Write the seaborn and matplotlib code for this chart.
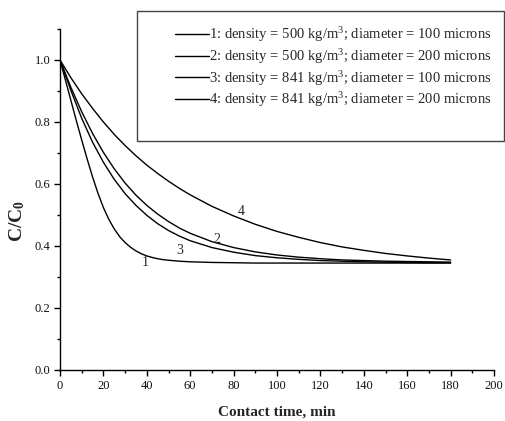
import numpy as np
import pandas as pd
import matplotlib
matplotlib.use("Agg")
import matplotlib.pyplot as plt
import seaborn as sns
from matplotlib.patches import Rectangle
from matplotlib.ticker import MultipleLocator, FormatStrFormatter

# contact time, min (curve 1 drops fast so it gets a finer grid)
time_1 = [0, 2.5, 5, 7.5, 10, 12.5, 15, 17.5, 20, 22.5, 25, 27.5, 30, 32.5, 35, 37.5, 40,
          42.5, 45, 47.5, 50, 55, 60, 70, 80, 90, 100, 120, 140, 160, 180]
time_min = [0, 5, 10, 15, 20, 25, 30, 35, 40, 45, 50, 55, 60, 70, 80, 90, 100, 110, 120,
            130, 140, 150, 160, 170, 180]

# C/C0
curve_1 = [1.0, 0.935, 0.870, 0.805, 0.742, 0.681, 0.623, 0.570, 0.524, 0.486, 0.455, 0.430,
           0.411, 0.396, 0.384, 0.375, 0.368, 0.363, 0.359, 0.356, 0.354, 0.351, 0.349, 0.347,
           0.346, 0.345, 0.345, 0.345, 0.345, 0.345, 0.345]
curve_2 = [1.0, 0.912, 0.833, 0.763, 0.702, 0.649, 0.603, 0.564, 0.531, 0.503, 0.479, 0.458,
           0.441, 0.414, 0.395, 0.381, 0.371, 0.364, 0.359, 0.355, 0.353, 0.351, 0.350, 0.349, 0.348]
curve_3 = [1.0, 0.902, 0.812, 0.735, 0.670, 0.615, 0.569, 0.531, 0.499, 0.472, 0.450, 0.432,
           0.417, 0.395, 0.380, 0.369, 0.362, 0.357, 0.353, 0.351, 0.349, 0.348, 0.347, 0.346, 0.346]
curve_4 = [1.0, 0.943, 0.891, 0.844, 0.800, 0.760, 0.724, 0.691, 0.661, 0.634, 0.609, 0.586,
           0.565, 0.528, 0.497, 0.470, 0.447, 0.428, 0.411, 0.397, 0.386, 0.376, 0.368, 0.361, 0.355]

curve_times = [time_1, time_min, time_min, time_min]
curves = [curve_1, curve_2, curve_3, curve_4]
legend_labels = [
    "1: density = 500 kg/m$^{3}$; diameter = 100 microns",
    "2: density = 500 kg/m$^{3}$; diameter = 200 microns",
    "3: density = 841 kg/m$^{3}$; diameter = 100 microns",
    "4: density = 841 kg/m$^{3}$; diameter = 200 microns",
]
curve_tags = ["1", "2", "3", "4"]
tag_x = [39.2, 72.2, 55.3, 83.7]
tag_y = [0.346, 0.4215, 0.387, 0.511]

sns.set_theme(style="ticks")
plt.rcParams["font.family"] = ["Liberation Serif", "DejaVu Serif"]
plt.rcParams["mathtext.fontset"] = "custom"
plt.rcParams["mathtext.rm"] = "Liberation Serif"
plt.rcParams["mathtext.bf"] = "Liberation Serif:bold"
plt.rcParams["mathtext.default"] = "regular"

fig = plt.figure(figsize=(5.05, 4.21), dpi=100)
ax = fig.add_axes([60 / 505, 51 / 421, 434 / 505, 341 / 421])

for tt, vals, lab in zip(curve_times, curves, legend_labels):
    sns.lineplot(x=tt, y=vals, color="black", linewidth=1.0, label=lab, ax=ax)

for tx, ty, tg in zip(tag_x, tag_y, curve_tags):
    ax.text(tx, ty, tg, fontsize=10, ha="center", va="center")

ax.set_xlim(0, 200)
ax.set_ylim(0, 1.1)
ax.xaxis.set_major_locator(MultipleLocator(20))
ax.xaxis.set_minor_locator(MultipleLocator(10))
ax.yaxis.set_major_locator(MultipleLocator(0.2))
ax.yaxis.set_minor_locator(MultipleLocator(0.1))
ax.yaxis.set_major_formatter(FormatStrFormatter("%.1f"))
ax.tick_params(which="major", length=4, width=1, labelsize=9, color="black", labelcolor="#111111", pad=3)
ax.tick_params(which="minor", length=2, width=1, color="black")
for s in ["left", "bottom"]:
    ax.spines[s].set_linewidth(1.0)
    ax.spines[s].set_color("black")
sns.despine(ax=ax)

ax.set_xlabel("Contact time, min", fontsize=11, fontweight="bold", labelpad=10)
ax.set_ylabel(r"$\mathbf{C/C_0}$", fontsize=14)
ax.yaxis.set_label_coords(-0.076, 0.437)

# legend with a box running past the axes
fig.patches.append(Rectangle((137 / 505, 1 - 141 / 421), 367 / 505, 130 / 421,
                             transform=fig.transFigure, fill=False, edgecolor="#444444",
                             linewidth=1.0, figure=fig))
leg = ax.legend(loc="upper left", bbox_to_anchor=(175 / 505, 1 - 25 / 421),
                bbox_transform=fig.transFigure, frameon=False, fontsize=10.5,
                handlelength=2.3, handletextpad=0.05, labelspacing=0.2, borderpad=0,
                borderaxespad=0)

fig.savefig("out.png", dpi=100)
